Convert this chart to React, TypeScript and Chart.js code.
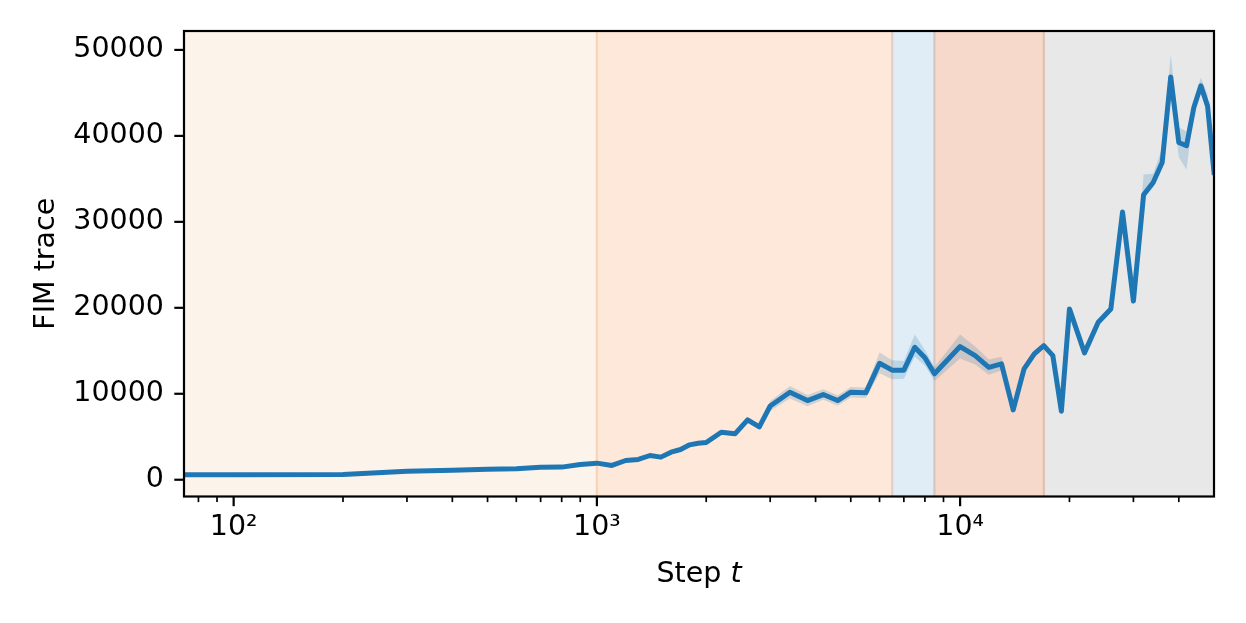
import { useEffect, useRef } from 'react';
import { Chart, registerables } from 'chart.js';

Chart.register(...registerables);

// ---- data ----
const steps = [
  70, 100, 200, 300, 400, 500, 600, 700, 800, 900,
  1000, 1100, 1200, 1300, 1400, 1500, 1600, 1700, 1800, 1900,
  2000, 2200, 2400, 2600, 2800, 3000, 3400, 3800, 4200, 4600,
  5000, 5500, 6000, 6500, 7000, 7500, 8000, 8500, 10000, 11000,
  12000, 13000, 14000, 15000, 16000, 17000, 18000, 19000, 20000, 22000,
  24000, 26000, 28000, 30000, 32000, 34000, 36000, 38000, 40000, 42000,
  44000, 46000, 48000, 50000,
];
const fimMean = [
  580, 580, 615, 1000, 1115, 1230, 1280, 1460, 1470, 1780,
  1930, 1660, 2240, 2360, 2820, 2630, 3210, 3520, 4060, 4250,
  4330, 5530, 5340, 6970, 6150, 8580, 10180, 9210, 9910, 9210,
  10180, 10110, 13550, 12750, 12750, 15410, 14180, 12320, 15490, 14440,
  13080, 13480, 8130, 12900, 14640, 15610, 14440, 7970, 19870, 14760,
  18310, 19870, 31150, 20780, 33150, 34580, 36900, 46860, 39230, 38850,
  43300, 45820, 43490, 35740,
];
const fimLower = [
  480, 480, 515, 900, 1015, 1130, 1180, 1360, 1370, 1660,
  1800, 1520, 2090, 2200, 2650, 2450, 3020, 3320, 3850, 4030,
  4100, 5280, 5080, 6680, 5850, 8000, 9450, 8550, 9300, 8600,
  9580, 9500, 12400, 11700, 11750, 14300, 13300, 11500, 14100, 13400,
  12200, 12700, 7800, 12450, 14200, 15350, 14220, 7800, 19650, 14550,
  18100, 19600, 30850, 20500, 32700, 34000, 36500, 45500, 37500, 36100,
  42600, 45200, 42500, 35300,
];
const fimUpper = [
  680, 680, 715, 1100, 1215, 1330, 1380, 1560, 1570, 1900,
  2060, 1800, 2390, 2520, 2990, 2810, 3400, 3720, 4270, 4470,
  4560, 5780, 5600, 7260, 6450, 9150, 10900, 9870, 10520, 9820,
  10780, 10720, 14800, 13900, 13800, 16900, 15100, 13100, 16900, 15500,
  14000, 14300, 8450, 13350, 15050, 15870, 14660, 8150, 20100, 14970,
  18520, 20150, 31450, 21050, 35500, 35600, 38600, 49500, 41000, 40500,
  44000, 46800, 44800, 36200,
];

const yTicks = [0, 10000, 20000, 30000, 40000, 50000];
const xMajorTicks = [100, 1000, 10000];
const xTickLabels = ['10\u00B2', '10\u00B3', '10\u2074'];
const xMinorTicks = [
  80, 90, 200, 300, 400, 500, 600, 700, 800, 900,
  2000, 3000, 4000, 5000, 6000, 7000, 8000, 9000,
  20000, 30000, 40000,
];

// training phases (shaded spans)
const phaseStart = [10, 1000, 6500, 8500, 17000];
const phaseEnd = [1000, 6500, 8500, 17000, 100000];
const phaseFill = ['#fcf3ea', '#fee8d9', '#e0edf6', '#f7d9cb', '#e8e8e8'];
const phaseEdgeAt = [1000, 6500, 8500, 17000];
const phaseEdgeColor = ['#fad3b4', '#e4cfc5', '#d6c5bf', '#dfc0b2'];

const FONT = 'DejaVu Sans';
const FS = 28.5;

const phasePlugin = {
  id: 'phases',
  beforeDatasetsDraw(chart: any) {
    const { ctx, chartArea: a, scales } = chart;
    const x = scales.x;
    ctx.save();
    ctx.beginPath();
    ctx.rect(a.left, a.top, a.right - a.left, a.bottom - a.top);
    ctx.clip();
    for (let i = 0; i < phaseStart.length; i++) {
      const x0 = Math.max(a.left - 5, x.getPixelForValue(phaseStart[i]));
      const x1 = Math.min(a.right + 5, x.getPixelForValue(phaseEnd[i]));
      ctx.fillStyle = phaseFill[i];
      ctx.fillRect(x0, a.top, x1 - x0, a.bottom - a.top);
    }
    ctx.lineWidth = 2.2;
    for (let i = 0; i < phaseEdgeAt.length; i++) {
      const px = x.getPixelForValue(phaseEdgeAt[i]);
      ctx.strokeStyle = phaseEdgeColor[i];
      ctx.beginPath();
      ctx.moveTo(px, a.top);
      ctx.lineTo(px, a.bottom);
      ctx.stroke();
    }
    ctx.restore();
  },
};

const framePlugin = {
  id: 'frame',
  afterDraw(chart: any) {
    const { ctx, chartArea: a, scales } = chart;
    const x = scales.x;
    const y = scales.y;
    ctx.save();
    ctx.strokeStyle = '#000';
    ctx.lineCap = 'butt';
    // major ticks
    ctx.lineWidth = 2.2;
    for (const v of xMajorTicks) {
      const px = x.getPixelForValue(v);
      ctx.beginPath();
      ctx.moveTo(px, a.bottom);
      ctx.lineTo(px, a.bottom + 9.7);
      ctx.stroke();
    }
    for (const v of yTicks) {
      const py = y.getPixelForValue(v);
      ctx.beginPath();
      ctx.moveTo(a.left, py);
      ctx.lineTo(a.left - 9.7, py);
      ctx.stroke();
    }
    // minor x ticks
    ctx.lineWidth = 1.7;
    for (const v of xMinorTicks) {
      const px = x.getPixelForValue(v);
      if (px < a.left || px > a.right) continue;
      ctx.beginPath();
      ctx.moveTo(px, a.bottom);
      ctx.lineTo(px, a.bottom + 5.6);
      ctx.stroke();
    }
    // spines
    ctx.lineWidth = 2.2;
    ctx.lineJoin = 'miter';
    ctx.strokeRect(a.left, a.top, a.right - a.left, a.bottom - a.top);
    // x axis title: "Step t" with italic t
    ctx.fillStyle = '#000';
    ctx.textBaseline = 'alphabetic';
    ctx.textAlign = 'left';
    const partA = 'Step ';
    const partB = 't';
    ctx.font = `${FS}px "${FONT}"`;
    const wA = ctx.measureText(partA).width;
    ctx.font = `italic ${FS}px "${FONT}"`;
    const wB = ctx.measureText(partB).width;
    const cx = (a.left + a.right) / 2;
    const startX = cx - (wA + wB) / 2;
    const baseY = 582;
    ctx.font = `${FS}px "${FONT}"`;
    ctx.fillText(partA, startX, baseY);
    ctx.font = `italic ${FS}px "${FONT}"`;
    ctx.fillText(partB, startX + wA, baseY);
    ctx.restore();
  },
};

export default function App() {
  const ref = useRef<HTMLCanvasElement>(null);

  useEffect(() => {
    document.body.style.margin = '0';
    const canvas = ref.current;
    if (!canvas) return;
    const pts = (arr: number[]) => steps.map((s, i) => ({ x: s, y: arr[i] }));
    const chart = new Chart(canvas, {
      type: 'line',
      data: {
        datasets: [
          {
            label: 'lower',
            data: pts(fimLower),
            borderWidth: 0,
            pointRadius: 0,
            fill: false,
            borderColor: 'rgba(0,0,0,0)',
            clip: 0,
          },
          {
            label: 'upper',
            data: pts(fimUpper),
            borderWidth: 0,
            pointRadius: 0,
            borderColor: 'rgba(0,0,0,0)',
            backgroundColor: 'rgba(31,119,180,0.2)',
            fill: '-1',
            clip: 0,
          },
          {
            label: 'FIM trace',
            data: pts(fimMean),
            borderColor: '#1f77b4',
            borderWidth: 5,
            pointRadius: 0,
            fill: false,
            borderJoinStyle: 'round',
            borderCapStyle: 'square',
            tension: 0,
            clip: 0,
          },
        ],
      } as any,
      options: {
        animation: false,
        responsive: false,
        devicePixelRatio: 1,
        events: [],
        layout: { padding: { top: 31, right: 32, left: 0, bottom: 0 } },
        plugins: {
          legend: { display: false },
          tooltip: { enabled: false },
          title: { display: false },
        },
        scales: {
          x: {
            type: 'logarithmic',
            min: 73,
            max: 50000,
            grid: { display: false, drawTicks: false },
            border: { display: false },
            afterBuildTicks: (scale: any) => {
              scale.ticks = [...xMajorTicks, ...xMinorTicks]
                .sort((p, q) => p - q)
                .map((v) => ({ value: v, major: xMajorTicks.includes(v) }));
            },
            afterFit: (scale: any) => {
              scale.height = 623 - 496.5;
              scale.paddingLeft = 0;
              scale.paddingRight = 0;
            },
            ticks: {
              autoSkip: false,
              maxRotation: 0,
              padding: 14,
              color: '#000',
              font: { family: FONT, size: FS },
              callback: (value: any) => {
                const idx = xMajorTicks.indexOf(Number(value));
                return idx >= 0 ? xTickLabels[idx] : '';
              },
            },
          },
          y: {
            type: 'linear',
            min: -1950,
            max: 52200,
            grid: { display: false, drawTicks: false },
            border: { display: false },
            afterBuildTicks: (scale: any) => {
              scale.ticks = yTicks.map((v) => ({ value: v }));
            },
            afterFit: (scale: any) => {
              scale.width = 184;
              scale.paddingTop = 0;
              scale.paddingBottom = 0;
            },
            ticks: {
              padding: 20,
              color: '#000',
              font: { family: FONT, size: FS },
              callback: (value: any) => String(value),
            },
            title: {
              display: true,
              text: 'FIM trace',
              color: '#000',
              font: { family: FONT, size: FS },
              padding: { top: 29, bottom: 0 },
            },
          },
        },
      } as any,
      plugins: [phasePlugin, framePlugin],
    });
    return () => chart.destroy();
  }, []);

  return (
    <div style={{ position: 'fixed', left: 0, top: 0, width: 1246, height: 623, background: '#fff' }}>
      <canvas ref={ref} width={1246} height={623} style={{ display: 'block', width: 1246, height: 623 }} />
    </div>
  );
}
